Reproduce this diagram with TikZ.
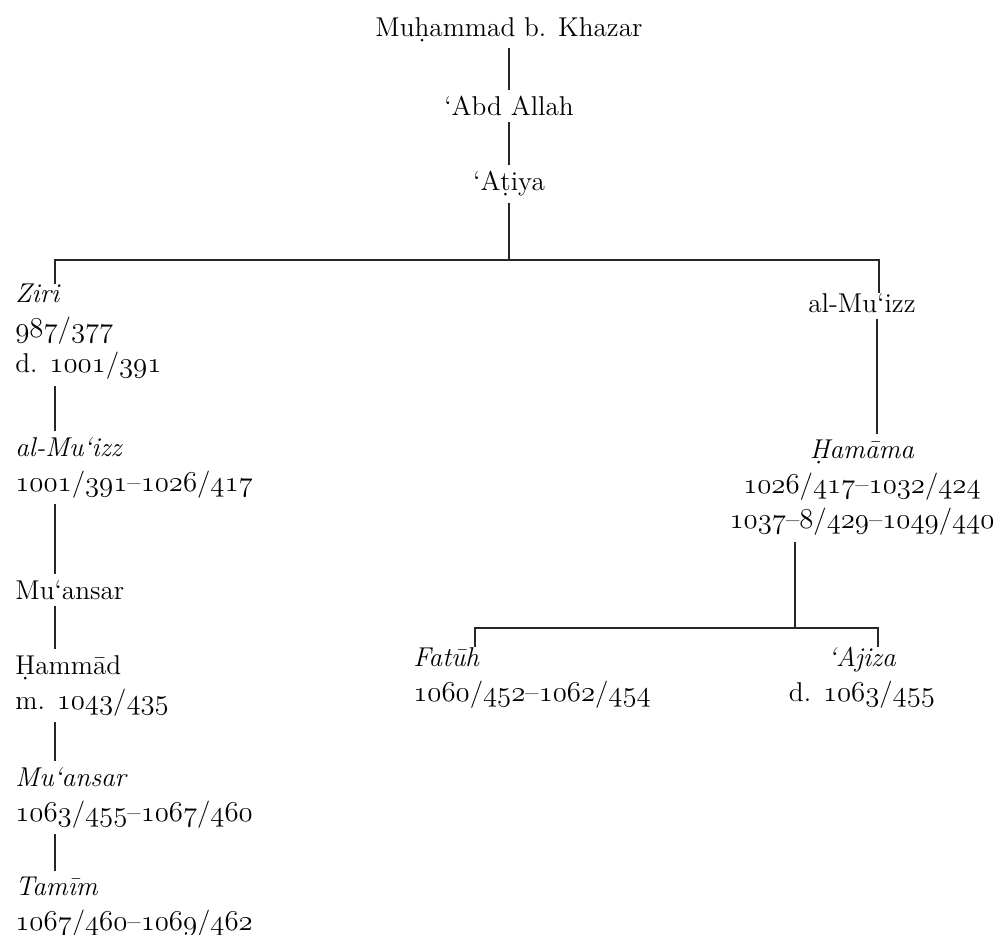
\documentclass[tikz,border=0pt]{standalone}
\newcommand{\os}[1]{{\usefont{OML}{cmm}{m}{it}#1}}
\begin{document}
\begin{tikzpicture}[x=0.5pt,y=-0.5pt,
  every node/.style={inner sep=0pt, font=\fontsize{13.6}{17.5}\selectfont},
  lbl/.style={align=left, anchor=north west},
  ctr/.style={align=center, anchor=north},
  link/.style={line width=0.8pt, black!85},
  gap/.style={shorten <=3pt, shorten >=3pt}]
\useasboundingbox (0,0) rectangle (995,935);
% top chain
\node[ctr] (muh) at (509,17) {Mu\d{h}ammad b. Khazar};
\node[ctr] (abd) at (509,96) {\textquoteleft Abd Allah};
\node[ctr] (atiya) at (509,171) {\textquoteleft A\d{t}iya};
% left column
\node[lbl] (ziri) at (15,284) {\textit{Ziri}\\\os{987}/\os{377}\\d. \os{1001}/\os{391}};
\node[lbl] (muizzL) at (15,437) {\textit{al-Mu\textquoteleft izz}\\\os{1001}/\os{391}--\os{1026}/\os{417}};
\node[lbl] (muansA) at (15,580) {Mu\textquoteleft ansar};
\node[lbl] (hammad) at (15,655) {\d{H}amm\=ad\\m. \os{1043}/\os{435}};
\node[lbl] (muansB) at (15,767) {\textit{Mu\textquoteleft ansar}\\\os{1063}/\os{455}--\os{1067}/\os{460}};
\node[lbl] (tamim) at (15,877) {\textit{Tam\={\i}m}\\\os{1067}/\os{460}--\os{1069}/\os{462}};
% right column
\node[ctr] (muizzR) at (862,293) {al-Mu\textquoteleft izz};
\node[ctr] (hamama) at (862,440) {\textit{\d{H}am\=ama}\\\os{1026}/\os{417}--\os{1032}/\os{424}\\\os{1037}--\os{8}/\os{429}--\os{1049}/\os{440}};
\node[lbl] (fatuh) at (413,647) {\textit{Fat\=uh}\\\os{1060}/\os{452}--\os{1062}/\os{454}};
\node[ctr] (ajiza) at (862,647) {\textit{\textquoteleft Ajiza}\\d. \os{1063}/\os{455}};
% coordinates
\coordinate (L) at (55,0);
\coordinate (R) at (879,0);
\coordinate (R2) at (877,0);
\coordinate (V) at (795,0);
\coordinate (barA) at (509,260);
\coordinate (barB) at (795,628);
% connectors
\draw[link,gap] (muh) -- (abd);
\draw[link,gap] (abd) -- (atiya);
\draw[link,shorten <=3pt] (atiya) -- (barA);
\draw[link] (ziri.north -| L) -- (barA -| L) -- (barA -| R) -- (muizzR.north -| R);
\draw[link,gap] (ziri.south -| L) -- (muizzL.north -| L);
\draw[link,gap] (muizzL.south -| L) -- (muansA.north -| L);
\draw[link,gap] (muansA.south -| L) -- (hammad.north -| L);
\draw[link,gap] (hammad.south -| L) -- (muansB.north -| L);
\draw[link,gap] (muansB.south -| L) -- (tamim.north -| L);
\draw[link,gap] (muizzR.south -| R2) -- (hamama.north -| R2);
\draw[link,shorten <=3pt] (hamama.south -| V) -- (barB);
\draw[link] (fatuh.north -| 475,0) -- (barB -| 475,0) -- (barB -| 878,0) -- (ajiza.north -| 878,0);
\end{tikzpicture}
\end{document}
